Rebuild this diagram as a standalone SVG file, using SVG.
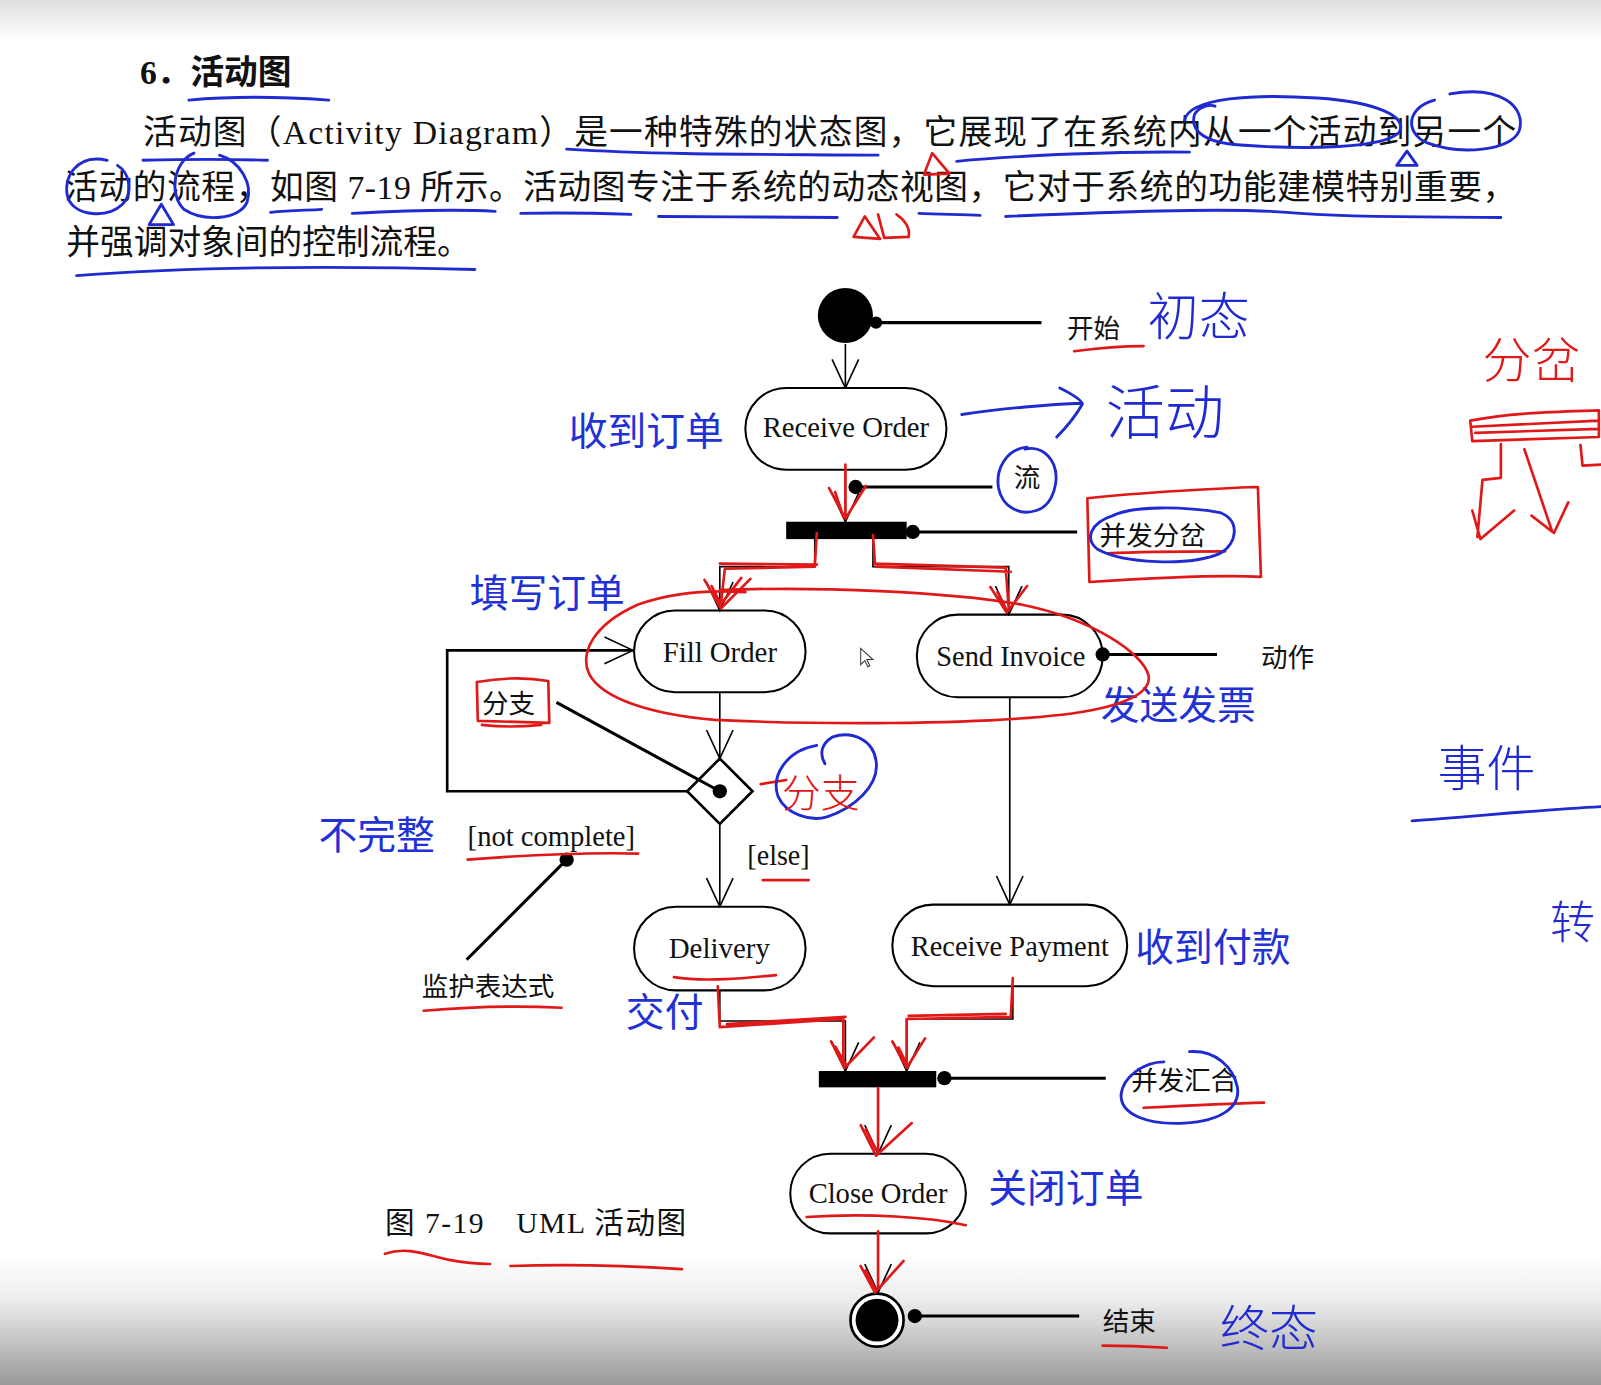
<svg xmlns="http://www.w3.org/2000/svg" width="1601" height="1385" viewBox="0 0 1601 1385">
<defs>
<linearGradient id="gTop" x1="0" y1="0" x2="0" y2="1"><stop offset="0" stop-color="#dedede"/><stop offset="1" stop-color="#ffffff"/></linearGradient>
<linearGradient id="gBot" x1="0" y1="0" x2="0" y2="1"><stop offset="0" stop-color="#ffffff"/><stop offset="0.35" stop-color="#ececec"/><stop offset="1" stop-color="#999999"/></linearGradient>
<marker id="v" viewBox="0 0 30 30" refX="29" refY="15" markerWidth="30" markerHeight="30" orient="auto" markerUnits="userSpaceOnUse"><path d="M1,2 L29,15 L1,28" fill="none" stroke="#000" stroke-width="1.6"/></marker>
</defs>
<style>
.bk{font-family:"Liberation Serif","Noto Sans CJK SC",serif;fill:#111}
.para{font-size:33px}
.lbl{font-family:"Liberation Serif",serif;fill:#111;font-size:28px}
.cn{font-family:"Noto Sans CJK SC",sans-serif;fill:#111;font-size:26px}
.bl{font-family:"Noto Sans CJK SC",sans-serif;fill:#2231d6;font-size:38px}
.hw{font-family:"Noto Sans CJK SC",sans-serif;font-weight:300;fill:#1f2ad0}
.hr{font-family:"Noto Sans CJK SC",sans-serif;font-weight:300;fill:#e01818}
.node{fill:#fff;stroke:#000;stroke-width:2}
.ln{fill:none;stroke:#000;stroke-width:1.6}
.tk{fill:none;stroke:#000;stroke-width:3}
.red{fill:none;stroke:#e01818;stroke-width:2.6;stroke-linecap:round;stroke-linejoin:round}
.blu{fill:none;stroke:#1f2ad0;stroke-width:2.8;stroke-linecap:round;stroke-linejoin:round}
</style>
<rect x="0" y="0" width="1601" height="1385" fill="#fff"/>
<rect x="0" y="0" width="1601" height="40" fill="url(#gTop)"/>
<rect x="0" y="1255" width="1601" height="130" fill="url(#gBot)"/>
<g transform="scale(1.021)">
<g id="paragraph">
<text class="bk" x="137" y="82" font-size="33" font-weight="bold">6．活动图</text>
<text class="bk para" x="140" y="141" textLength="1345" lengthAdjust="spacing">活动图（Activity Diagram）是一种特殊的状态图，它展现了在系统内从一个活动到另一个</text>
<text class="bk para" x="63" y="195" textLength="1422" lengthAdjust="spacing">活动的流程，如图 7-19 所示。活动图专注于系统的动态视图，它对于系统的功能建模特别重要，</text>
<text class="bk para" x="65" y="249">并强调对象间的控制流程。</text>
</g>
<g id="para-marks">
<path class="blu" d="M185,98 C230,94 280,95 322,98"/>
<path class="blu" d="M140,157 C180,156 230,156 262,157"/>
<path class="blu" d="M555,146 C650,152 760,151 860,152"/>
<path class="blu" d="M937,158 C1000,152 1100,148 1165,149"/>
<path class="blu" d="M1160,118 C1165,95 1230,92 1290,96 C1350,100 1380,115 1370,130 C1355,145 1280,147 1215,142 C1180,140 1165,128 1170,112 C1175,104 1185,102 1190,104"/>
<path class="blu" d="M1420,92 C1470,83 1495,105 1488,128 C1480,148 1430,152 1398,140 C1375,130 1378,105 1405,98"/>
<path class="blu" d="M1378,148 L1368,162 L1388,162 Z"/>
<path class="blu" d="M105,157 C75,150 60,175 67,195 C75,212 105,214 120,200 C130,190 128,170 115,162"/>
<path class="blu" d="M190,150 C170,158 165,190 180,205 C200,218 235,215 242,198 C248,180 235,158 215,152"/>
<path class="blu" d="M158,200 L146,220 L170,220 Z"/>
<path class="blu" d="M265,208 C285,206 300,206 315,205"/>
<path class="blu" d="M345,209 C400,206 450,205 485,207"/>
<path class="blu" d="M510,209 C550,208 590,209 618,210"/>
<path class="blu" d="M645,212 C700,212 770,213 820,213"/>
<path class="blu" d="M900,209 C920,210 945,210 960,211"/>
<path class="blu" d="M985,212 C1080,208 1200,203 1260,208 C1330,214 1420,212 1470,213"/>
<path class="blu" d="M75,270 C180,262 320,260 465,264"/>
<path class="red" d="M913,150 L905,171 L930,170 Z"/>
<path class="red" d="M847,212 L836,232 L862,234 Z M860,210 L866,233 L890,232 C892,222 884,214 878,210"/>
</g>
<g id="start">
<circle cx="828" cy="309" r="27" fill="#000"/>
<circle cx="858" cy="316" r="6" fill="#000"/>
<line class="tk" x1="858" y1="316" x2="1020" y2="316"/>
<text class="cn" x="1045" y="331">开始</text>
</g>
<g id="receive-order">
<rect class="node" x="730" y="380" width="197" height="80" rx="40"/>
<text class="lbl" x="747" y="428" textLength="163" lengthAdjust="spacingAndGlyphs">Receive Order</text>
<text class="bl" x="557" y="436">收到订单</text>
</g>
<g id="flow-note">
<circle cx="838" cy="477" r="7" fill="#000"/>
<line class="tk" x1="838" y1="477" x2="972" y2="477"/>
<text class="cn" x="993" y="477">流</text>
</g>
<g id="fork">
<rect x="770" y="511" width="118" height="17" fill="#000"/>
<circle cx="894" cy="521" r="7" fill="#000"/>
<line class="tk" x1="894" y1="521" x2="1055" y2="521"/>
<text class="cn" x="1077" y="534">并发分岔</text>
</g>
<g id="fill-order">
<rect class="node" x="621" y="598" width="168" height="80" rx="40"/>
<text class="lbl" x="649" y="648" textLength="112" lengthAdjust="spacingAndGlyphs">Fill Order</text>
<text class="bl" x="460" y="595">填写订单</text>
</g>
<g id="send-invoice">
<rect class="node" x="898" y="602" width="182" height="81" rx="40"/>
<text class="lbl" x="917" y="652" textLength="146" lengthAdjust="spacingAndGlyphs">Send Invoice</text>
<circle cx="1080" cy="641" r="7" fill="#000"/>
<line class="tk" x1="1080" y1="641" x2="1192" y2="641"/>
<text class="cn" x="1235" y="653">动作</text>
<text class="bl" x="1078" y="704">发送发票</text>
</g>
<g id="decision">
<polygon points="705,743 737,775 705,807 673,775" fill="#fff" stroke="#000" stroke-width="2.6"/>
<circle cx="705" cy="775" r="7" fill="#000"/>
<line class="tk" x1="545" y1="688" x2="705" y2="775"/>
<text class="cn" x="472" y="698">分支</text>
</g>
<g id="guard-note">
<text class="lbl" x="458" y="829" textLength="164" lengthAdjust="spacingAndGlyphs">[not complete]</text>
<text class="lbl" x="732" y="847" textLength="61" lengthAdjust="spacingAndGlyphs">[else]</text>
<circle cx="555" cy="842" r="7" fill="#000"/>
<line class="tk" x1="555" y1="842" x2="457" y2="940"/>
<text class="cn" x="413" y="976">监护表达式</text>
<text class="bl" x="312" y="832">不完整</text>
</g>
<g id="delivery">
<rect class="node" x="621" y="888" width="168" height="82" rx="41"/>
<text class="lbl" x="655" y="938" textLength="99" lengthAdjust="spacingAndGlyphs">Delivery</text>
<text class="bl" x="613" y="1005">交付</text>
</g>
<g id="receive-payment">
<rect class="node" x="874" y="886" width="230" height="80" rx="40"/>
<text class="lbl" x="892" y="936" textLength="194" lengthAdjust="spacingAndGlyphs">Receive Payment</text>
<text class="bl" x="1112" y="941">收到付款</text>
</g>
<g id="join">
<rect x="802" y="1049" width="115" height="16" fill="#000"/>
<circle cx="925" cy="1056" r="7" fill="#000"/>
<line class="tk" x1="925" y1="1056" x2="1083" y2="1056"/>
<text class="cn" x="1108" y="1068">并发汇合</text>
</g>
<g id="close-order">
<rect class="node" x="774" y="1130" width="172" height="78" rx="39"/>
<text class="lbl" x="792" y="1178" textLength="136" lengthAdjust="spacingAndGlyphs">Close Order</text>
<text class="bl" x="968" y="1177">关闭订单</text>
</g>
<g id="final">
<circle cx="859" cy="1293" r="26" fill="#fff" stroke="#000" stroke-width="2.6"/>
<circle cx="859" cy="1293" r="21" fill="#000"/>
<circle cx="896" cy="1289" r="7" fill="#000"/>
<line class="tk" x1="896" y1="1289" x2="1057" y2="1289"/>
<text class="cn" x="1080" y="1304">结束</text>
</g>
<g id="caption">
<text class="bk" x="377" y="1208" font-size="29" textLength="295" lengthAdjust="spacing">图 7-19　UML 活动图</text>
</g>
<g id="connectors">
<line class="ln" x1="828" y1="337" x2="828" y2="380" marker-end="url(#v)"/>
<line class="ln" x1="828" y1="460" x2="828" y2="511" marker-end="url(#v)"/>
<polyline class="ln" points="798,528 798,555 705,555 705,598" marker-end="url(#v)"/>
<polyline class="ln" points="855,528 855,555 988,555 988,602" marker-end="url(#v)"/>
<line class="ln" x1="705" y1="678" x2="705" y2="743" marker-end="url(#v)"/>
<line class="ln" x1="705" y1="807" x2="705" y2="888" marker-end="url(#v)"/>
<polyline fill="none" stroke="#000" stroke-width="2.6" points="673,775 438,775 438,637 620,637" marker-end="url(#v)"/>
<line class="ln" x1="989" y1="683" x2="989" y2="886" marker-end="url(#v)"/>
<polyline class="ln" points="705,970 705,1000 828,1000 828,1049" marker-end="url(#v)"/>
<polyline class="ln" points="992,966 992,998 888,998 888,1049" marker-end="url(#v)"/>
<line class="ln" x1="860" y1="1065" x2="860" y2="1130" marker-end="url(#v)"/>
<line class="ln" x1="860" y1="1208" x2="860" y2="1266" marker-end="url(#v)"/>
</g>
<path d="M843,635 L843,651 L847,647 L850,653 L852,652 L849,646 L855,646 Z" fill="#fff" stroke="#333" stroke-width="1"/>
<g id="red-marks">
<path class="red" d="M828,455 L828,506 M812,478 L828,508 L848,476 M818,482 L826,506"/>
<path class="red" d="M800,522 L798,555 L710,557 L706,592 M800,553 L705,552 M690,568 L706,596 L735,567 M697,574 L706,592 L726,566"/>
<path class="red" d="M855,524 L857,552 L985,556 L988,596 M858,555 L990,560 M970,575 L986,600 L1006,574 M977,580 L986,598"/>
<path class="red" d="M703,966 L705,1006 L826,998 L826,1040 M712,1003 L828,996 M814,1020 L827,1046 L856,1016 M818,1025 L828,1042"/>
<path class="red" d="M992,958 L990,996 L888,998 L888,1040 M985,993 L890,995 M874,1020 L888,1046 L906,1017 M880,1026 L888,1042"/>
<path class="red" d="M860,1066 L860,1128 M843,1102 L858,1132 L893,1100 M848,1106 L858,1126"/>
<path class="red" d="M860,1206 L860,1262 M843,1240 L857,1266 L885,1235 M848,1244 L857,1262"/>
<path class="red" d="M705,578 C800,574 930,580 1000,592 C1070,606 1120,640 1125,662 C1128,682 1090,694 1040,700 C950,710 800,710 700,705 C640,700 590,685 577,660 C568,640 580,612 625,592 C660,580 700,578 730,580"/>
<path class="red" d="M1065,490 L1067,570 M1065,488 C1120,482 1200,478 1232,477 L1235,565 M1067,570 C1130,566 1200,563 1235,565"/>
<path class="red" d="M467,668 L468,706 L538,708 L537,667 C515,663 490,664 467,668 M472,710 C490,712 510,712 530,710"/>
<path class="red" d="M1052,344 C1075,341 1100,339 1120,339"/>
<path class="red" d="M1085,542 C1120,540 1160,540 1200,540"/>
<path class="red" d="M458,842 C520,837 580,835 625,836"/>
<path class="red" d="M747,862 L792,862"/>
<path class="red" d="M415,990 C460,986 510,985 550,987"/>
<path class="red" d="M660,957 C690,962 730,958 760,955"/>
<path class="red" d="M1120,1085 C1160,1083 1200,1081 1238,1080"/>
<path class="red" d="M790,1192 C850,1188 910,1192 946,1200"/>
<path class="red" d="M1080,1318 C1100,1318 1125,1319 1143,1320"/>
<path class="red" d="M377,1228 C400,1220 420,1230 440,1234 C460,1238 470,1238 480,1238"/>
<path class="red" d="M500,1240 C560,1238 620,1240 668,1243"/>
<path class="red" d="M745,768 L770,764"/>
<path class="red" stroke-width="5" d="M1440,412 C1480,404 1530,403 1566,402 L1566,428 L1442,432 Z M1442,418 L1566,412 M1445,424 L1566,420"/>
<path class="red" d="M1470,435 L1470,468 L1452,470 L1447,526 M1442,500 L1450,528 L1483,500"/>
<path class="red" d="M1493,440 L1520,520 M1500,505 L1522,522 L1536,492"/>
<path class="red" d="M1548,436 L1550,456 L1568,455"/>
</g>
<g id="blue-marks">
<path class="blu" d="M942,406 C980,400 1030,396 1060,395 M1038,380 C1050,386 1060,392 1060,396 C1055,405 1045,418 1035,428"/>
<path class="blu" d="M1006,438 C985,440 975,460 978,478 C982,498 1000,505 1015,500 C1032,495 1038,470 1032,455 C1026,442 1015,437 1004,440"/>
<path class="blu" d="M1090,505 C1110,495 1160,496 1195,502 C1215,510 1212,532 1195,542 C1165,555 1100,552 1075,538 C1062,528 1068,512 1090,505"/>
<path class="blu" d="M1140,1040 C1120,1040 1100,1055 1098,1072 C1097,1092 1125,1102 1160,1100 C1195,1098 1215,1085 1212,1065 C1208,1045 1190,1028 1165,1030"/>
<path class="blu" d="M800,730 C770,735 755,760 762,780 C770,798 795,805 810,800 C835,792 862,770 858,745 C855,725 835,715 815,722 C805,728 802,738 808,748"/>
<path class="blu" d="M1383,804 C1440,800 1510,793 1568,790"/>
</g>
<g id="handwriting">
<text class="hw" x="1124" y="328" font-size="50">初态</text>
<text class="hw" x="1083" y="425" font-size="58">活动</text>
<text class="hr" x="766" y="790" font-size="38">分支</text>
<text class="hw" x="1195" y="1318" font-size="48">终态</text>
<text class="hr" x="1452" y="370" font-size="48">分岔</text>
<text class="hw" x="1408" y="770" font-size="48">事件</text>
<text class="hw" x="1518" y="920" font-size="44">转</text>
</g>
</g>
</svg>
